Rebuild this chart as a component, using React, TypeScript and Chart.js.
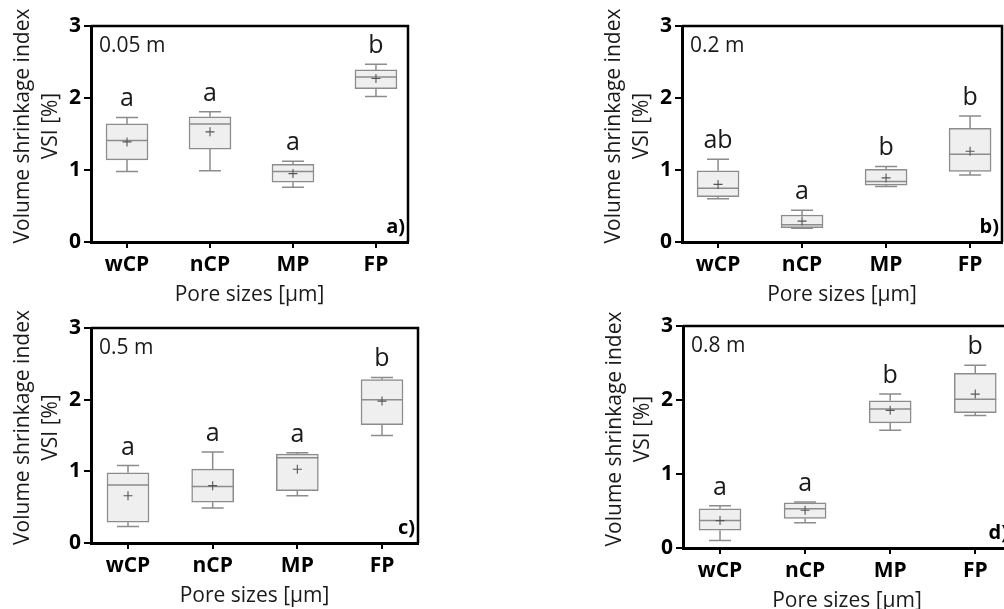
import React, { useEffect, useRef } from "react";
import { Chart, registerables } from "chart.js";

Chart.register(...registerables);

const categories = ["wCP", "nCP", "MP", "FP"];
const yTickValues = [0, 1, 2, 3];
const yTitle = ["Volume shrinkage index", "VSI [%]"];
const xTitle = "Pore sizes [\u03BCm]";

// Panel a) 0.05 m
const aMin = [0.98, 0.99, 0.76, 2.02];
const aQ1 = [1.14, 1.29, 0.83, 2.13];
const aMedian = [1.41, 1.64, 0.98, 2.29];
const aQ3 = [1.64, 1.74, 1.08, 2.39];
const aMax = [1.73, 1.81, 1.12, 2.47];
const aMean = [1.39, 1.53, 0.95, 2.27];
const aLetters = ["a", "a", "a", "b"];

// Panel b) 0.2 m
const bMin = [0.6, 0.19, 0.77, 0.93];
const bQ1 = [0.63, 0.2, 0.79, 0.98];
const bMedian = [0.745, 0.24, 0.84, 1.22];
const bQ3 = [0.99, 0.375, 1.01, 1.58];
const bMax = [1.15, 0.44, 1.05, 1.75];
const bMean = [0.8, 0.29, 0.89, 1.26];
const bLetters = ["ab", "a", "b", "b"];

// Panel c) 0.5 m
const cMin = [0.23, 0.49, 0.66, 1.5];
const cQ1 = [0.29, 0.57, 0.73, 1.65];
const cMedian = [0.81, 0.79, 1.19, 2.0];
const cQ3 = [0.98, 1.03, 1.24, 2.28];
const cMax = [1.08, 1.27, 1.26, 2.31];
const cMean = [0.66, 0.8, 1.03, 1.98];
const cLetters = ["a", "a", "a", "b"];

// Panel d) 0.8 m
const dMin = [0.1, 0.34, 1.59, 1.79];
const dQ1 = [0.24, 0.4, 1.69, 1.83];
const dMedian = [0.37, 0.53, 1.88, 2.01];
const dQ3 = [0.53, 0.61, 1.99, 2.36];
const dMax = [0.57, 0.62, 2.08, 2.47];
const dMean = [0.37, 0.51, 1.86, 2.08];
const dLetters = ["a", "a", "b", "b"];

type Stats = {
  depth: string;
  tag: string;
  min: number[];
  q1: number[];
  median: number[];
  q3: number[];
  max: number[];
  mean: number[];
  letters: string[];
};

type Layout = {
  left: number;
  top: number;
  width: number;
  height: number;
  L: number;
  R: number;
  T: number;
  B: number;
  xMin: number;
  xMax: number;
};

const FONT = '"Open Sans", "DejaVu Sans", sans-serif';
const BOX_GRAY = "#8c8c8c";
const BOX_FILL = "#efefef";

const panels: { stats: Stats; layout: Layout }[] = [
  {
    stats: { depth: "0.05 m", tag: "a)", min: aMin, q1: aQ1, median: aMedian, q3: aQ3, max: aMax, mean: aMean, letters: aLetters },
    layout: { left: 0, top: 0, width: 430, height: 320, L: 91, R: 408, T: 26, B: 242, xMin: 0.566, xMax: 4.386 },
  },
  {
    stats: { depth: "0.2 m", tag: "b)", min: bMin, q1: bQ1, median: bMedian, q3: bQ3, max: bMax, mean: bMean, letters: bLetters },
    layout: { left: 560, top: 0, width: 460, height: 320, L: 682, R: 1002, T: 26, B: 242, xMin: 0.571, xMax: 4.38 },
  },
  {
    stats: { depth: "0.5 m", tag: "c)", min: cMin, q1: cQ1, median: cMedian, q3: cQ3, max: cMax, mean: cMean, letters: cLetters },
    layout: { left: 0, top: 300, width: 430, height: 309, L: 91, R: 418, T: 328, B: 543, xMin: 0.563, xMax: 4.425 },
  },
  {
    stats: { depth: "0.8 m", tag: "d)", min: dMin, q1: dQ1, median: dMedian, q3: dQ3, max: dMax, mean: dMean, letters: dLetters },
    layout: { left: 560, top: 300, width: 460, height: 309, L: 683, R: 1011, T: 326, B: 548, xMin: 0.565, xMax: 4.42 },
  },
];

function BoxPanel({ stats, layout }: { stats: Stats; layout: Layout }) {
  const ref = useRef<HTMLCanvasElement | null>(null);

  useEffect(() => {
    if (!ref.current) return;
    const lo = layout;
    const extras = {
      id: "boxExtras",
      afterDatasetsDraw(chart: any) {
        const ctx = chart.ctx as CanvasRenderingContext2D;
        const xs = chart.scales.x;
        const ys = chart.scales.y;
        const area = chart.chartArea;
        ctx.save();
        categories.forEach((_, i) => {
          const x = xs.getPixelForValue(i + 1);
          const yMin = ys.getPixelForValue(stats.min[i]);
          const yQ1 = ys.getPixelForValue(stats.q1[i]);
          const yMed = ys.getPixelForValue(stats.median[i]);
          const yQ3 = ys.getPixelForValue(stats.q3[i]);
          const yMax = ys.getPixelForValue(stats.max[i]);
          const yMean = ys.getPixelForValue(stats.mean[i]);
          ctx.strokeStyle = BOX_GRAY;
          ctx.lineWidth = 1.5;
          ctx.beginPath();
          ctx.moveTo(x, yQ3);
          ctx.lineTo(x, yMax);
          ctx.moveTo(x - 11, yMax);
          ctx.lineTo(x + 11, yMax);
          ctx.moveTo(x, yQ1);
          ctx.lineTo(x, yMin);
          ctx.moveTo(x - 11, yMin);
          ctx.lineTo(x + 11, yMin);
          ctx.moveTo(x - 21, yMed);
          ctx.lineTo(x + 21, yMed);
          ctx.stroke();
          ctx.strokeStyle = "#555";
          ctx.lineWidth = 1.1;
          ctx.beginPath();
          ctx.moveTo(x - 4.5, yMean);
          ctx.lineTo(x + 4.5, yMean);
          ctx.moveTo(x, yMean - 4.5);
          ctx.lineTo(x, yMean + 4.5);
          ctx.stroke();
          ctx.fillStyle = "#1a1a1a";
          ctx.font = `25px ${FONT}`;
          ctx.textAlign = "center";
          ctx.textBaseline = "alphabetic";
          ctx.fillText(stats.letters[i], x, yMax - 11);
        });
        // frame (top + right)
        ctx.strokeStyle = "#000";
        ctx.lineWidth = 2.5;
        ctx.beginPath();
        ctx.moveTo(area.left, area.top);
        ctx.lineTo(area.right, area.top);
        ctx.lineTo(area.right, area.bottom);
        ctx.stroke();
        // depth label
        ctx.fillStyle = "#1a1a1a";
        ctx.font = `21px ${FONT}`;
        ctx.textAlign = "left";
        ctx.textBaseline = "alphabetic";
        ctx.fillText(stats.depth, area.left + 8, area.top + 26);
        // panel tag
        ctx.font = `bold 20px ${FONT}`;
        ctx.textAlign = "right";
        ctx.fillStyle = "#000";
        ctx.fillText(stats.tag, area.right - 3, area.bottom - 9);
        // x title
        ctx.font = `21px ${FONT}`;
        ctx.textAlign = "center";
        ctx.fillStyle = "#1a1a1a";
        ctx.fillText(xTitle, (area.left + area.right) / 2, area.bottom + 59);
        // y title
        const cy = (area.top + area.bottom) / 2 - 8;
        ctx.save();
        ctx.translate(area.left - 62, cy);
        ctx.rotate(-Math.PI / 2);
        ctx.textAlign = "center";
        ctx.textBaseline = "alphabetic";
        ctx.fillText(yTitle[0], 0, 0);
        ctx.restore();
        ctx.save();
        ctx.translate(area.left - 34, cy);
        ctx.rotate(-Math.PI / 2);
        ctx.textAlign = "center";
        ctx.textBaseline = "alphabetic";
        ctx.fillText(yTitle[1], 0, 0);
        ctx.restore();
        ctx.restore();
      },
    };

    const chart = new Chart(ref.current, {
      type: "bar",
      data: {
        datasets: [
          {
            data: categories.map((_, i) => ({ x: i + 1, y: [stats.q1[i], stats.q3[i]] })) as any,
            backgroundColor: BOX_FILL,
            borderColor: BOX_GRAY,
            borderWidth: 1.5,
            borderSkipped: false,
            barThickness: 42,
          },
        ],
      },
      options: {
        animation: false,
        responsive: false,
        maintainAspectRatio: false,
        events: [],
        layout: {
          padding: {
            left: 0,
            top: lo.T - lo.top,
            right: lo.width - (lo.R - lo.left),
            bottom: 0,
          },
        },
        plugins: {
          legend: { display: false },
          tooltip: { enabled: false },
          title: { display: false },
        },
        scales: {
          x: {
            type: "linear",
            offset: false,
            min: lo.xMin,
            max: lo.xMax,
            afterBuildTicks: (s: any) => {
              s.ticks = categories.map((_, i) => ({ value: i + 1 }));
            },
            afterFit: (s: any) => {
              s.height = lo.height - (lo.B - lo.top);
            },
            ticks: {
              callback: (_v: any, idx: number) => categories[idx],
              autoSkip: false,
              maxRotation: 0,
              minRotation: 0,
              padding: 4,
              color: "#000",
              font: { family: FONT, size: 21, weight: "bold" },
            },
            grid: {
              offset: false,
              drawOnChartArea: false,
              drawTicks: true,
              tickLength: 6,
              color: "#000",
              lineWidth: 2,
            },
            border: { display: true, color: "#000", width: 3 },
          },
          y: {
            type: "linear",
            min: 0,
            max: 3,
            afterBuildTicks: (s: any) => {
              s.ticks = yTickValues.map((v) => ({ value: v }));
            },
            afterFit: (s: any) => {
              s.width = lo.L - lo.left;
            },
            ticks: {
              padding: 3,
              color: "#000",
              font: { family: FONT, size: 21, weight: "bold" },
            },
            grid: {
              drawOnChartArea: false,
              drawTicks: true,
              tickLength: 7,
              color: "#000",
              lineWidth: 2,
            },
            border: { display: true, color: "#000", width: 3 },
          },
        },
      } as any,
      plugins: [extras],
    });
    return () => chart.destroy();
  }, [stats, layout]);

  return (
    <canvas
      ref={ref}
      width={layout.width}
      height={layout.height}
      style={{
        position: "absolute",
        left: layout.left,
        top: layout.top,
        width: layout.width,
        height: layout.height,
      }}
    />
  );
}

export default function App() {
  return (
    <div
      style={{
        position: "fixed",
        left: 0,
        top: 0,
        width: 1004,
        height: 609,
        overflow: "hidden",
        background: "#fff",
      }}
    >
      {panels.map((p, i) => (
        <BoxPanel key={i} stats={p.stats} layout={p.layout} />
      ))}
    </div>
  );
}
